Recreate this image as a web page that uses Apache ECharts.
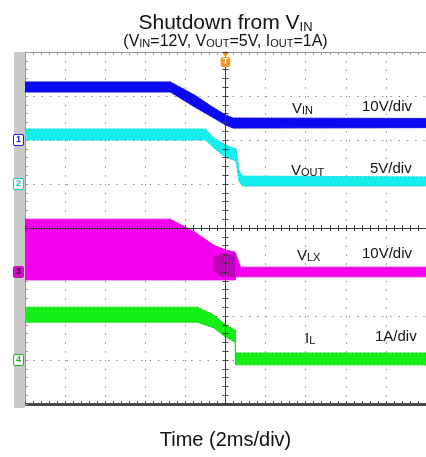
<!DOCTYPE html>
<html>
<head>
<meta charset="utf-8">
<script src="https://cdn.jsdelivr.net/npm/echarts@6/dist/echarts.min.js"></script>
<style>
html,body{margin:0;padding:0;background:#fff;}
#scope{width:426px;height:457px;}
</style>
</head>
<body>
<div id="scope"></div>
<script>
// time in ms, trigger at 0 (2ms/div, 10 div on screen)
var vinT  = [-10, -2.75, -1.54, -0.58, 0, 0.39, 10];
var vinHi = [13.2, 13.2, 10.2, 7.3, 5.7, 5.0, 4.9];
var vinLo = [10.9, 10.9, 7.5, 5.0, 3.4, 2.7, 2.8];

var voutT  = [-10, -1.0, -0.58, 0, 0.39, 0.53, 0.68, 0.85, 10];
var voutHi = [6.25, 6.25, 5.23, 4.43, 4.09, 3.98, 1.5, 0.9, 0.8];
var voutLo = [5.0, 5.0, 4.09, 3.07, 2.73, 2.6, 0.3, -0.23, -0.23];

var vlxT  = [-10, -2.75, -1.54, -0.58, 0, 0.48, 0.50, 0.75, 10];
var vlxHi = [12.0, 12.0, 9.1, 6.1, 5.0, 4.5, 4.3, 1.1, 1.1];
var vlxLo = [-1.8, -1.8, -1.8, -1.8, -1.8, -1.8, -1.1, -1.1, -1.1];
// darker, denser part of the switch node trace
var vlxDenseT  = [-0.58, -0.2, 0.46];
var vlxDenseHi = [3.4, 3.9, 3.9];
var vlxDenseLo = [0.4, -1.0, -1.0];

var ilT  = [-10, -1.4, -0.58, 0, 0.48, 0.50, 10];
var ilHi = [1.20, 1.20, 1.02, 0.80, 0.68, 0.16, 0.16];
var ilLo = [0.86, 0.86, 0.73, 0.52, 0.41, -0.11, -0.11];

var FONT = '"Liberation Sans", Arial, sans-serif';

var scopeObj = document.getElementById('scope');
var chart = echarts.init(scopeObj);

// each item is one slice of the trace: [t0, lo0, hi0, t1, lo1, hi1]
function slices(t, lo, hi) {
	var out = [];
	for (var i = 0; i < t.length - 1; i++) {
		out.push([t[i], lo[i], hi[i], t[i + 1], lo[i + 1], hi[i + 1]]);
	}
	return out;
}
function renderSlice(color) {
	return function (params, api) {
		var a = api.coord([api.value(0), api.value(2)]);
		var b = api.coord([api.value(3), api.value(5)]);
		var c = api.coord([api.value(3), api.value(4)]);
		var d = api.coord([api.value(0), api.value(1)]);
		return {
			type: 'polygon',
			shape: {points: [a, b, c, d]},
			style: {fill: color, stroke: color, lineWidth: 0.8}
		};
	};
}
function band(name, yIdx, t, lo, hi, color, edge) {
	var list = [{
		name: name, type: 'custom', yAxisIndex: yIdx, silent: true, z: 2,
		dimensions: ['t0', 'lo0', 'hi0', 't1', 'lo1', 'hi1'],
		encode: {x: [0, 3], y: [1, 2, 4, 5]},
		renderItem: renderSlice(color),
		data: slices(t, lo, hi)
	}];
	if (edge) {
		[lo, hi].forEach(function (v) {
			list.push({
				type: 'line', yAxisIndex: yIdx, silent: true, symbol: 'none', z: 3,
				data: t.map(function (x, i) { return [x, v[i]]; }),
				lineStyle: {width: 1, color: edge, type: [1, 3], opacity: 0.55}
			});
		});
	}
	return list;
}

var hidden = {show: false};
var dots = '#8c8c8c';
var cross = '#3a3a3a';

var option = {
	animation: false,
	grid: {left: 25, top: 52, width: 415, height: 352},
	xAxis: [
		{ // bottom frame + vertical grid
			type: 'value', min: -10, max: 10, interval: 2, position: 'bottom',
			axisLine: {onZero: false, lineStyle: {color: '#4a4a4a', width: 3}},
			axisTick: {show: true, inside: true, length: 3, lineStyle: {color: '#4a4a4a'}},
			minorTick: {show: true, splitNumber: 5, length: 3, lineStyle: {color: '#4a4a4a'}},
			axisLabel: hidden,
			splitLine: {show: true, lineStyle: {color: dots, width: 1, type: [1.5, 7.3]}}
		},
		{ // top frame
			type: 'value', min: -10, max: 10, interval: 2, position: 'top',
			axisLine: {onZero: false, lineStyle: {color: '#9a9a9a', width: 1}},
			axisTick: {show: true, inside: true, length: 3, lineStyle: {color: '#9a9a9a'}},
			minorTick: {show: true, splitNumber: 5, length: 3, lineStyle: {color: '#9a9a9a'}},
			axisLabel: hidden, splitLine: hidden
		},
		{ // horizontal crosshair, ticks up
			type: 'value', min: -10, max: 10, interval: 2, position: 'bottom', z: 10,
			axisLine: {onZero: true, onZeroAxisIndex: 0, lineStyle: {color: cross, width: 1}},
			axisTick: {show: true, inside: true, length: 3, lineStyle: {color: cross}},
			minorTick: {show: true, splitNumber: 5, length: 3, lineStyle: {color: cross}},
			axisLabel: hidden, splitLine: hidden
		},
		{ // horizontal crosshair, ticks down
			type: 'value', min: -10, max: 10, interval: 2, position: 'bottom', z: 10,
			axisLine: {onZero: true, onZeroAxisIndex: 0, lineStyle: {color: cross, width: 1}},
			axisTick: {show: true, inside: false, length: 3, lineStyle: {color: cross}},
			minorTick: {show: true, splitNumber: 5, length: 3, lineStyle: {color: cross}},
			axisLabel: hidden, splitLine: hidden
		}
	],
	yAxis: [
		{ // left frame + horizontal grid, in divisions
			type: 'value', min: -4, max: 4, interval: 1, position: 'left',
			axisLine: {onZero: false, lineStyle: {color: '#9a9a9a', width: 1}},
			axisTick: {show: true, inside: true, length: 3, lineStyle: {color: '#9a9a9a'}},
			minorTick: {show: true, splitNumber: 5, length: 3, lineStyle: {color: '#9a9a9a'}},
			axisLabel: hidden,
			splitLine: {show: true, lineStyle: {color: dots, width: 1, type: [1.5, 6.8]}}
		},
		{ // vertical crosshair, ticks right
			type: 'value', min: -4, max: 4, interval: 1, position: 'left', z: 10,
			axisLine: {onZero: true, onZeroAxisIndex: 0, lineStyle: {color: cross, width: 1}},
			axisTick: {show: true, inside: true, length: 3, lineStyle: {color: cross}},
			minorTick: {show: true, splitNumber: 5, length: 3, lineStyle: {color: cross}},
			axisLabel: hidden, splitLine: hidden
		},
		{ // vertical crosshair, ticks left
			type: 'value', min: -4, max: 4, interval: 1, position: 'left', z: 10,
			axisLine: {onZero: true, onZeroAxisIndex: 0, lineStyle: {color: cross, width: 1}},
			axisTick: {show: true, inside: false, length: 3, lineStyle: {color: cross}},
			minorTick: {show: true, splitNumber: 5, length: 3, lineStyle: {color: cross}},
			axisLabel: hidden, splitLine: hidden
		},
		// channel scales: ground of CH1..CH4 at 6, 5, 3, 1 div from bottom
		{type: 'value', min: -60, max: 20, interval: 10, show: false, axisLine: {onZero: false}, splitLine: hidden},
		{type: 'value', min: -25, max: 15, interval: 5, show: false, axisLine: {onZero: false}, splitLine: hidden},
		{type: 'value', min: -30, max: 50, interval: 10, show: false, axisLine: {onZero: false}, splitLine: hidden},
		{type: 'value', min: -1, max: 7, interval: 1, show: false, axisLine: {onZero: false}, splitLine: hidden}
	],
	series: [].concat(
		band('vin', 3, vinT, vinLo, vinHi, '#0a0af0', '#00007a'),
		band('vout', 4, voutT, voutLo, voutHi, '#16eeee', '#0a8c8c'),
		band('vlx', 5, vlxT, vlxLo, vlxHi, '#f400ef', '#8c0a8c'),
		band('vlxDense', 5, vlxDenseT, vlxDenseLo, vlxDenseHi, '#b808b4', null),
		band('il', 6, ilT, ilLo, ilHi, '#14ee14', '#0a7a0a')
	)
};
chart.setOption(option);

function sub(main, small, size, subSize, lift) {
	return {
		text: '{a|' + main + '}{b|' + small + '}',
		rich: {
			a: {fontSize: size, fontFamily: FONT, lineHeight: size + 4, verticalAlign: 'bottom', fill: '#111'},
			b: {fontSize: subSize, fontFamily: FONT, lineHeight: lift, verticalAlign: 'bottom', fill: '#111'}
		}
	};
}
function label(x, y, style) {
	style.x = x; style.y = y;
	style.align = 'left'; style.verticalAlign = 'middle';
	style.textAlign = 'left'; style.textVerticalAlign = 'middle';
	return {type: 'text', z: 50, style: style};
}
function plain(x, y, txt, size, align) {
	return {type: 'text', z: 50, style: {
		x: x, y: y, text: txt, font: size + 'px ' + FONT, fill: '#111',
		align: align || 'left', verticalAlign: 'middle',
		textAlign: align || 'left', textVerticalAlign: 'middle'
	}};
}

var cx = chart.convertToPixel({xAxisIndex: 0}, 0);
var g1 = chart.convertToPixel({yAxisIndex: 3}, 0);
var g2 = chart.convertToPixel({yAxisIndex: 4}, 0);
var g3 = chart.convertToPixel({yAxisIndex: 5}, 0);
var g4 = chart.convertToPixel({yAxisIndex: 6}, 0);

function marker(y, txt, color, filled) {
	return {type: 'text', z: 60, style: {
		x: 14, y: y, text: txt, font: 'bold 9px ' + FONT,
		fill: filled ? '#3a003a' : color,
		backgroundColor: filled ? color : '#fff',
		borderColor: color, borderWidth: 1, borderRadius: 1, padding: [1, 2, 0, 2],
		align: 'left', verticalAlign: 'middle', textAlign: 'left', textVerticalAlign: 'middle'
	}};
}

var title = sub('Shutdown from V', 'IN', 21, 13, 14);
title.x = cx; title.y = 21; title.align = 'center'; title.textAlign = 'center';
title.verticalAlign = 'middle'; title.textVerticalAlign = 'middle';

var subTitle = {
	text: '{a|(V}{b|IN}{a|=12V, V}{b|OUT}{a|=5V, I}{b|OUT}{a|=1A)}',
	rich: {
		a: {fontSize: 16, fontFamily: FONT, lineHeight: 19, verticalAlign: 'bottom', fill: '#111'},
		b: {fontSize: 11, fontFamily: FONT, lineHeight: 11, verticalAlign: 'bottom', fill: '#111'}
	},
	x: cx, y: 40, align: 'center', textAlign: 'center', verticalAlign: 'middle', textVerticalAlign: 'middle'
};

chart.setOption({
	graphic: [
		{type: 'rect', z: 40, shape: {x: 14, y: 52, width: 11, height: 356}, style: {fill: '#c8c8c8'}},
		{type: 'text', z: 50, style: title},
		{type: 'text', z: 50, style: subTitle},
		label(292, 107, sub('V', 'IN', 15, 11, 12)),
		plain(362, 107, '10V/div', 15),
		label(291, 169, sub('V', 'OUT', 15, 11, 14)),
		plain(370, 169, '5V/div', 15),
		label(297, 254, sub('V', 'LX', 15, 11, 16)),
		plain(362, 254, '10V/div', 15),
		label(305, 337, sub('I', 'L', 15, 11, 12)),
		plain(375, 337, '1A/div', 15),
		plain(cx, 440, 'Time (2ms/div)', 20, 'center'),
		marker(g1, '1', '#1a1ae0', false),
		marker(g2, '2', '#10c8d0', false),
		marker(g3, '3', '#d010c8', true),
		marker(g4, '4', '#10c010', false),
		{type: 'polygon', z: 60, shape: {points: [[cx - 3, 53], [cx + 3, 53], [cx, 57]]}, style: {fill: '#f08a10'}},
		{type: 'text', z: 60, style: {
			x: cx, y: 62, text: 'T', font: 'bold 9px ' + FONT, fill: '#fff',
			backgroundColor: '#f49a20', borderRadius: 2, padding: [1, 2, 0, 2],
			align: 'center', verticalAlign: 'middle', textAlign: 'center', textVerticalAlign: 'middle'
		}}
	]
});

window.addEventListener('resize', function () {
	chart.resize();
});
</script>
</body>
</html>
